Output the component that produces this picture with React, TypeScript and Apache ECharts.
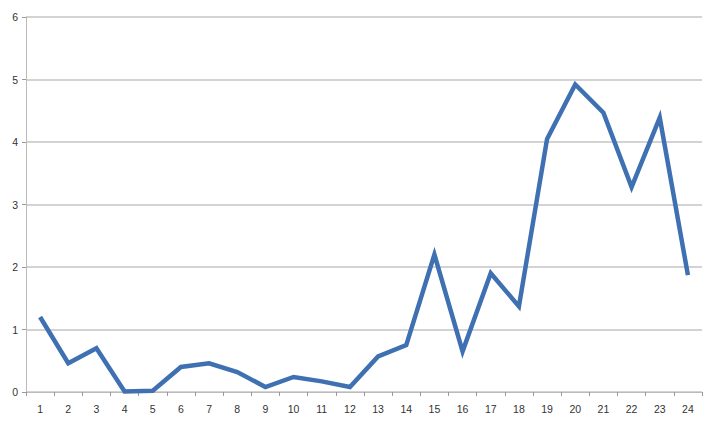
import { useEffect, useRef } from 'react';
import * as echarts from 'echarts';

const categories = ['1', '2', '3', '4', '5', '6', '7', '8', '9', '10', '11', '12', '13', '14', '15', '16', '17', '18', '19', '20', '21', '22', '23', '24'];
const values = [1.2, 0.46, 0.7, 0.01, 0.02, 0.4, 0.46, 0.32, 0.08, 0.24, 0.17, 0.08, 0.57, 0.75, 2.2, 0.65, 1.9, 1.37, 4.05, 4.92, 4.47, 3.28, 4.39, 1.87];

export default function App() {
  const chartRef = useRef<HTMLDivElement>(null);

  useEffect(() => {
    if (!chartRef.current) return;
    const chart = echarts.init(chartRef.current, undefined, { renderer: 'svg' });

    const option: echarts.EChartsOption = {
      animation: false,
      backgroundColor: '#fff',
      grid: { left: 26, right: 18, top: 17, bottom: 32 },
      xAxis: {
        type: 'category',
        data: categories,
        boundaryGap: true,
        axisLine: { lineStyle: { color: '#bbb', width: 1 } },
        axisTick: { show: true, alignWithLabel: false, length: 4, lineStyle: { color: '#999' } },
        axisLabel: { color: '#333', fontSize: 10.5, fontFamily: 'Liberation Sans', margin: 11 },
        splitLine: { show: false },
      },
      yAxis: {
        type: 'value',
        min: 0,
        max: 6,
        interval: 1,
        axisLine: { show: true, lineStyle: { color: '#bbb', width: 1 } },
        axisTick: { show: true, length: 4, lineStyle: { color: '#999' } },
        axisLabel: { color: '#333', fontSize: 10.5, fontFamily: 'Liberation Sans', margin: 8 },
        splitLine: { show: true, lineStyle: { color: '#c4c4c4', width: 1.5 } },
      },
      series: [
        {
          type: 'line',
          data: values,
          showSymbol: false,
          symbol: 'none',
          lineStyle: { color: '#3e70b2', width: 4.5, join: 'miter' },
          itemStyle: { color: '#3e70b2' },
        },
      ],
    };

    chart.setOption(option);
    return () => {
      chart.dispose();
    };
  }, []);

  return (
    <div
      ref={chartRef}
      style={{ position: 'fixed', left: 0, top: 0, width: '720px', height: '424px' }}
    />
  );
}
